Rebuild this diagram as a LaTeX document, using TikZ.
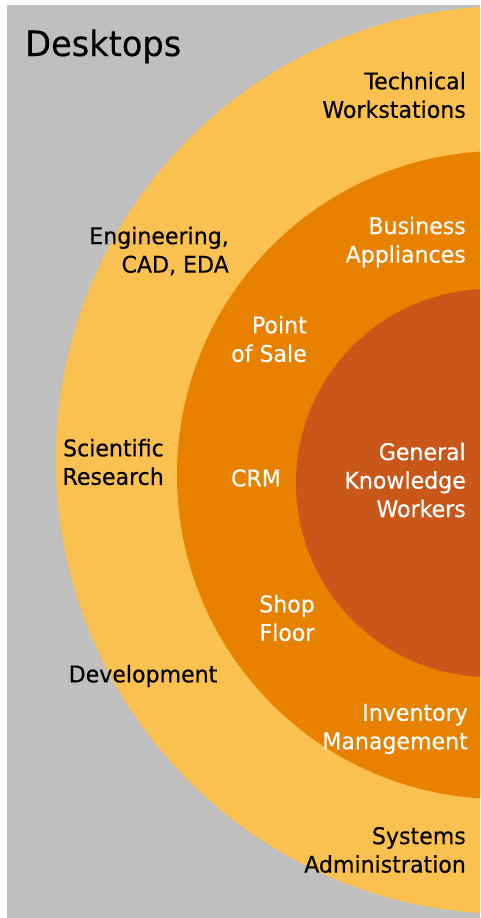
\documentclass[tikz,border=0pt]{standalone}
\usepackage{fontspec}
\setmainfont{DejaVu Sans}[FakeStretch=0.96,FakeBold=0.3]
\usepackage{xcolor}
\usepackage{tikz}
\usetikzlibrary{positioning}
\definecolor{bggray}{RGB}{191,191,191}
\definecolor{ringlight}{RGB}{250,192,80}
\definecolor{ringmid}{RGB}{232,128,0}
\definecolor{ringdark}{RGB}{201,87,26}

\begin{document}
\begin{tikzpicture}[x=1pt,y=-1pt,inner sep=0pt,
  lbl/.style={font=\fontsize{23}{28.5}\selectfont,align=right,anchor=east},
  blk/.style={lbl,text=black},
  wht/.style={lbl,text=white}]
  \useasboundingbox (0,0) rectangle (480,918);
  \begin{scope}
   \clip (7,5) rectangle (480,918);
   \fill[bggray] (7,5) rectangle (480,918);
   \fill[ringlight] (510,460) circle[radius=454pt];
   \fill[ringmid] (501,475) circle[radius=324pt];
   \fill[ringdark] (490,483) circle[radius=194pt];
  \end{scope}
  \node[anchor=base west,font=\fontsize{35}{40}\selectfont] (desk) at (25,56) {Desktops};
  % outer ring
  \node[blk] (tech) at (466,95) {Technical\\Workstations};
  \node[blk] (eng) at (229,251) {Engineering,\\CAD, EDA};
  \node[blk] (sci) at (164,462) {Scientific\\Research};
  \node[blk,anchor=center,align=center] (dev) at (143,676) {Development};
  \node[blk] (sys) at (466,850) {Systems\\Administration};
  % middle ring
  \node[wht] (bus) at (466,242) {Business\\Appliances};
  \node[wht] (pos) at (307,339) {Point\\of Sale};
  \node[wht,anchor=center,align=center] (crm) at (256,478) {CRM};
  \node[wht,anchor=center,align=center] (shop) at (287,618) {Shop\\Floor};
  \node[wht] (inv) at (468,729) {Inventory\\Management};
  % inner circle
  \node[wht] (gkw) at (466,480) {General\\Knowledge\\Workers};
\end{tikzpicture}
\end{document}
